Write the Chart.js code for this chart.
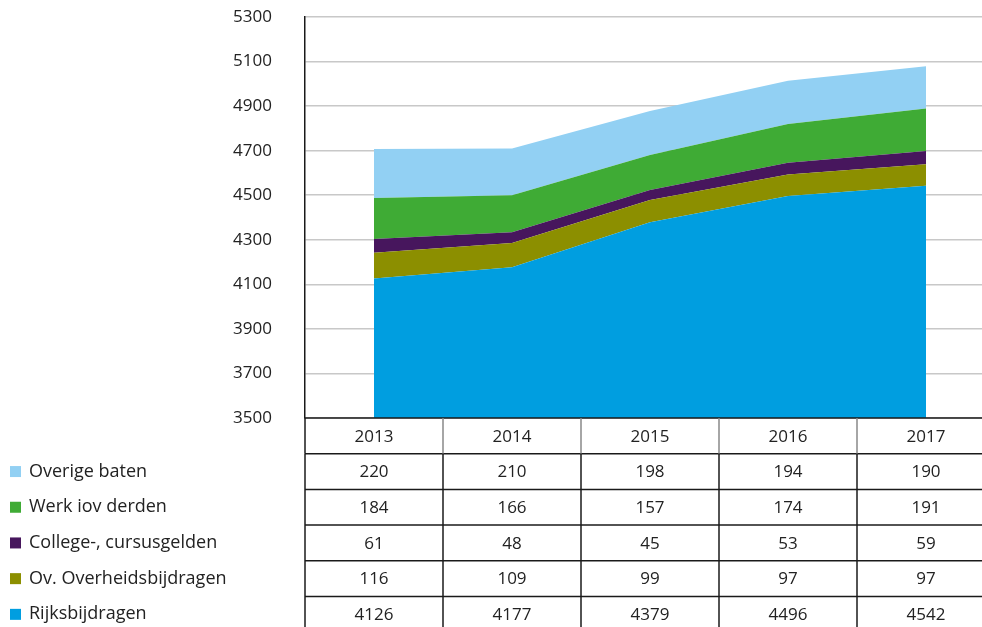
<!DOCTYPE html>
<html>
<head>
<meta charset="utf-8">
<script src="https://cdn.jsdelivr.net/npm/chart.js@4"></script>
<style>
  html, body { margin: 0; padding: 0; background: #fff; overflow: hidden; }
  #wrap { width: 1000px; height: 627px; position: relative; }
</style>
</head>
<body>
<div id="wrap"><canvas id="baten"></canvas></div>
<script>
// Baten per jaar (x 1 mln)
const years = ['2013', '2014', '2015', '2016', '2017'];
const rijksbijdragen = [4126, 4177, 4379, 4496, 4542];
const ovOverheidsbijdragen = [116, 109, 99, 97, 97];
const collegegelden = [61, 48, 45, 53, 59];
const werkDerden = [184, 166, 157, 174, 191];
const overigeBaten = [220, 210, 198, 194, 190];

const seriesLabels = ['Rijksbijdragen', 'Ov. Overheidsbijdragen', 'College-, cursusgelden', 'Werk iov derden', 'Overige baten'];
const seriesColors = ['#009ee0', '#8c8f00', '#47165d', '#3fab35', '#92d0f3'];
const seriesData = [rijksbijdragen, ovOverheidsbijdragen, collegegelden, werkDerden, overigeBaten];

const yMin = 3500, yMax = 5300, yStep = 200;
const FONT = '"Open Sans", "Noto Sans", sans-serif';

// tabel + legenda onder de grafiek
const tablePlugin = {
  id: 'dataTable',
  afterDraw(chart) {
    const ctx = chart.ctx;
    const area = chart.chartArea;
    const x = chart.scales.x;
    const top = area.bottom;
    const rowH = 35.7;
    const nRows = seriesData.length + 1;
    const colW = x.getPixelForValue(1) - x.getPixelForValue(0);
    const right = chart.width;

    ctx.save();
    // horizontale lijnen
    ctx.strokeStyle = '#1a1a1a';
    ctx.lineWidth = 1.5;
    for (let r = 0; r <= nRows; r++) {
      const y = top + r * rowH;
      ctx.beginPath();
      ctx.moveTo(area.left, y);
      ctx.lineTo(right, y);
      ctx.stroke();
    }
    // verticale lijnen
    for (let c = 0; c < years.length; c++) {
      const xl = x.getPixelForValue(c) - colW / 2;
      ctx.strokeStyle = c === 0 ? '#1a1a1a' : '#888';
      ctx.beginPath();
      ctx.moveTo(xl, top);
      ctx.lineTo(xl, top + rowH);
      ctx.stroke();
      ctx.strokeStyle = '#1a1a1a';
      ctx.beginPath();
      ctx.moveTo(xl, top + rowH);
      ctx.lineTo(xl, top + nRows * rowH);
      ctx.stroke();
    }

    // tekst
    ctx.fillStyle = '#222';
    ctx.textAlign = 'center';
    ctx.textBaseline = 'middle';
    ctx.font = '17px ' + FONT;
    years.forEach((yr, i) => {
      ctx.fillText(yr, x.getPixelForValue(i), top + rowH / 2 + 1);
    });
    // rijen van boven naar onder: laatste reeks eerst
    for (let r = 0; r < seriesData.length; r++) {
      const s = seriesData.length - 1 - r;
      const yc = top + (r + 1) * rowH + rowH / 2 + 1;
      seriesData[s].forEach((v, i) => {
        ctx.fillText(String(v), x.getPixelForValue(i), yc);
      });
      // legenda
      ctx.fillStyle = seriesColors[s];
      ctx.fillRect(10, yc - 6.5, 11, 11);
      ctx.fillStyle = '#222';
      ctx.textAlign = 'left';
      ctx.font = '18px ' + FONT;
      ctx.fillText(seriesLabels[s], 29, yc - 1);
      ctx.textAlign = 'center';
      ctx.font = '17px ' + FONT;
    }
    ctx.restore();
  }
};

new Chart(document.getElementById('baten'), {
  type: 'line',
  data: {
    labels: years,
    datasets: seriesData.map((d, i) => ({
      label: seriesLabels[i],
      data: d,
      backgroundColor: seriesColors[i],
      borderWidth: 0,
      pointRadius: 0,
      fill: i === 0 ? 'start' : '-1',
      tension: 0,
    }))
  },
  options: {
    responsive: true,
    maintainAspectRatio: false,
    animation: false,
    layout: { padding: { top: 17, bottom: 627 - 418, right: 5, left: 233 } },
    plugins: { legend: { display: false }, tooltip: { enabled: false } },
    scales: {
      x: { display: false, offset: true },
      y: {
        stacked: true,
        min: yMin,
        max: yMax,
        afterFit: s => { s.width = 305 - 233; },
        ticks: {
          stepSize: yStep,
          padding: 0,
          crossAlign: 'far',
          color: '#222',
          font: { family: FONT, size: 17 },
          callback: v => String(v),
        },
        grid: { color: '#c8c8c8', lineWidth: 1.5, drawTicks: false },
        border: { color: '#1a1a1a', width: 1.5 },
      },
    },
  },
  plugins: [tablePlugin],
});
</script>
</body>
</html>
